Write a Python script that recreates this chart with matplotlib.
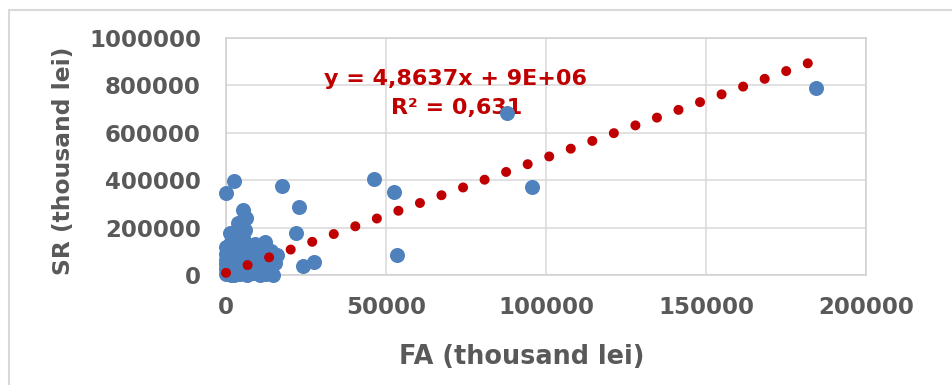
import numpy as np
from matplotlib import pyplot as plt
from matplotlib.patches import Rectangle

# FA and SR values (thousand lei)
fa = [184300, 87800, 95500, 46300, 52400, 53500, 17600, 22800, 21800, 24000,
      27500, 2500, 0, 5400, 6400, 3900, 1300, 5400, 12200, 15800,
      15300, 13700, 14800,
      0, 0, 0, 0, 0, 0,
      1000, 1000, 1200, 1500, 1800, 1500,
      2500, 2500, 2800, 3000, 3200, 3000, 2800,
      4500, 4500, 4800, 5000, 4500, 4200,
      6500, 6500, 7000, 6800, 7000, 6500,
      8500, 9000, 8500, 8500,
      10500, 11000, 11000, 11000, 12000,
      12500, 13500, 12500,
      1500, 2000, 3500, 2000, 5500, 7500, 8000, 9500, 10000, 12500,
      13500, 14000, 6000, 9000]
sr = [790000, 682000, 372000, 404000, 349000, 84000, 377000, 288000, 176000, 39000,
      56000, 398000, 345000, 274000, 239000, 218000, 176000, 155000, 140000, 84000,
      49000, 14000, 0,
      5000, 25000, 45000, 65000, 90000, 119000,
      10000, 35000, 60000, 85000, 110000, 140000,
      0, 20000, 50000, 75000, 100000, 125000, 150000,
      5000, 30000, 60000, 90000, 115000, 140000,
      0, 20000, 45000, 75000, 100000, 125000,
      10000, 35000, 60000, 105000,
      0, 20000, 35000, 100000, 120000,
      30000, 80000, 5000,
      0, 125000, 160000, 165000, 130000, 115000, 85000, 60000, 110000, 100000,
      40000, 100000, 190000, 130000]

slope = 4.8637
intercept = 9000
eq_text = "y = 4,8637x + 9E+06"
r2_text = "R² = 0,631"

xticks = [0, 50000, 100000, 150000, 200000]
yticks = [0, 200000, 400000, 600000, 800000, 1000000]

grey = '#595959'
fig = plt.figure(figsize=(9.52, 3.85), dpi=100)
ax = fig.add_axes([226/952, 1-275/385, 640/952, 237/385])

ax.scatter(fa, sr, s=117, color='#4F81BD', linewidths=0, zorder=3, clip_on=False)

# linear trendline, drawn as round dots
tx = np.array([min(fa), max(fa)])
ax.plot(tx, slope*tx + intercept, color='#C00000', lw=7.2,
        linestyle=(0, (0.01, 2.28)), dash_capstyle='round', zorder=4, clip_on=False)

ax.text(0.359, 0.827, eq_text, transform=ax.transAxes, ha='center', va='center',
        color='#C00000', fontsize=16, fontweight='bold', family='DejaVu Sans', zorder=2)
ax.text(0.36, 0.705, r2_text, transform=ax.transAxes, ha='center', va='center',
        color='#C00000', fontsize=16, fontweight='bold', family='DejaVu Sans', zorder=2)

ax.set_xlim(0, 200000)
ax.set_ylim(0, 1000000)
ax.set_xticks(xticks)
ax.set_yticks(yticks)
ax.set_xticklabels([str(v) for v in xticks], fontsize=16.5, fontweight='bold',
                   family='DejaVu Sans', color=grey)
ax.set_yticklabels([str(v) for v in yticks], fontsize=16.5, fontweight='bold',
                   family='DejaVu Sans', color=grey)
ax.tick_params(axis='x', length=0, pad=15)
ax.tick_params(axis='y', length=0, pad=18)
ax.grid(True, color='#D9D9D9', lw=1.1)
ax.set_axisbelow(True)
for s in ax.spines.values():
    s.set_color('#D0D0D0')
    s.set_linewidth(1.1)

ax.set_xlabel("FA (thousand lei)", fontsize=18.4, fontweight='bold', family='DejaVu Sans',
              color=grey)
ax.xaxis.set_label_coords((522-226)/640, -(344-275)/237)
ax.set_ylabel("SR (thousand lei)", fontsize=16.8, fontweight='bold', family='DejaVu Sans',
              color=grey)
ax.yaxis.set_label_coords(-(226-75)/640, (275-161)/237)

# chart frame, only left and top edges visible
fig.add_artist(Rectangle((9/952, -1), 2, 2 - 10/385, transform=fig.transFigure,
                         fill=False, edgecolor='#D9D9D9', lw=1.5))

fig.savefig("out.png", dpi=100)
